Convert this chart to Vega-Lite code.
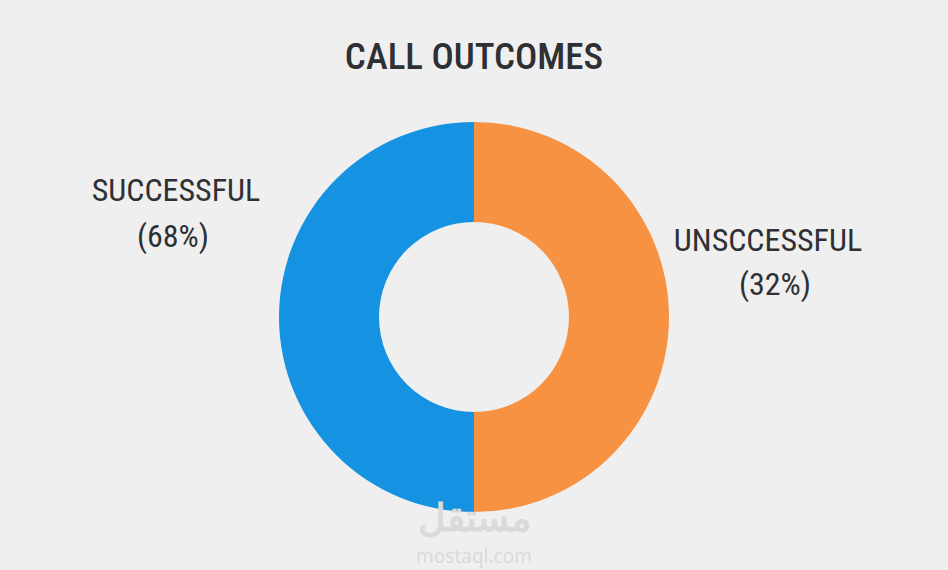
{
  "$schema": "https://vega.github.io/schema/vega-lite/v6.json",
  "width": 948,
  "height": 506,
  "autosize": "none",
  "padding": {"top": 64, "left": 0, "right": 0, "bottom": 0},
  "background": "#efefef",
  "title": {
    "text": "CALL OUTCOMES",
    "anchor": "middle",
    "font": "Roboto Condensed, Liberation Sans Narrow, Roboto",
    "fontSize": 37,
    "fontWeight": 500,
    "color": "#2e3033",
    "offset": 0,
    "baseline": "alphabetic",
    "dy": 42
  },
  "data": {
    "values": [
      {"outcome": "UNSCCESSFUL", "pct": "(32%)", "share": 50, "ord": 1},
      {"outcome": "SUCCESSFUL", "pct": "(68%)", "share": 50, "ord": 2}
    ]
  },
  "config": {"view": {"stroke": null}},
  "layer": [
    {
      "mark": {"type": "arc", "radius": 195, "radius2": 95},
      "encoding": {
        "theta": {"field": "share", "type": "quantitative", "stack": true},
        "order": {"field": "ord", "type": "quantitative"},
        "color": {
          "field": "outcome",
          "type": "nominal",
          "scale": {"domain": ["SUCCESSFUL", "UNSCCESSFUL"], "range": ["#1592e1", "#f79242"]},
          "legend": null
        }
      }
    },
    {
      "mark": {"type": "text", "radius": 298, "font": "Roboto Condensed, Liberation Sans Narrow, Roboto", "fontSize": 32, "color": "#2e3033", "dy": -126, "baseline": "middle"},
      "encoding": {
        "theta": {"field": "share", "type": "quantitative", "stack": true},
        "order": {"field": "ord", "type": "quantitative"},
        "text": {"condition": {"test": "datum.ord == 2", "field": "outcome"}, "value": ""}
      }
    },
    {
      "mark": {"type": "text", "radius": 301, "font": "Roboto Condensed, Liberation Sans Narrow, Roboto", "fontSize": 32, "color": "#2e3033", "dy": -80, "baseline": "middle"},
      "encoding": {
        "theta": {"field": "share", "type": "quantitative", "stack": true},
        "order": {"field": "ord", "type": "quantitative"},
        "text": {"condition": {"test": "datum.ord == 2", "field": "pct"}, "value": ""}
      }
    },
    {
      "mark": {"type": "text", "radius": 294, "font": "Roboto Condensed, Liberation Sans Narrow, Roboto", "fontSize": 32, "color": "#2e3033", "dy": -76, "baseline": "middle"},
      "encoding": {
        "theta": {"field": "share", "type": "quantitative", "stack": true},
        "order": {"field": "ord", "type": "quantitative"},
        "text": {"condition": {"test": "datum.ord == 1", "field": "outcome"}, "value": ""}
      }
    },
    {
      "mark": {"type": "text", "radius": 301, "font": "Roboto Condensed, Liberation Sans Narrow, Roboto", "fontSize": 32, "color": "#2e3033", "dy": -32, "baseline": "middle"},
      "encoding": {
        "theta": {"field": "share", "type": "quantitative", "stack": true},
        "order": {"field": "ord", "type": "quantitative"},
        "text": {"condition": {"test": "datum.ord == 1", "field": "pct"}, "value": ""}
      }
    },
    {
      "data": {"values": [{"mark": "مستقل", "site": "mostaql.com"}]},
      "layer": [
        {
          "mark": {"type": "text", "font": "Noto Sans", "fontWeight": "bold", "fontSize": 38, "color": "#dadada", "baseline": "middle", "dy": 203},
          "encoding": {"text": {"field": "mark"}}
        },
        {
          "mark": {"type": "text", "font": "Noto Sans", "fontSize": 19, "color": "#dadada", "baseline": "middle", "dy": 240},
          "encoding": {"text": {"field": "site"}}
        }
      ]
    }
  ]
}
